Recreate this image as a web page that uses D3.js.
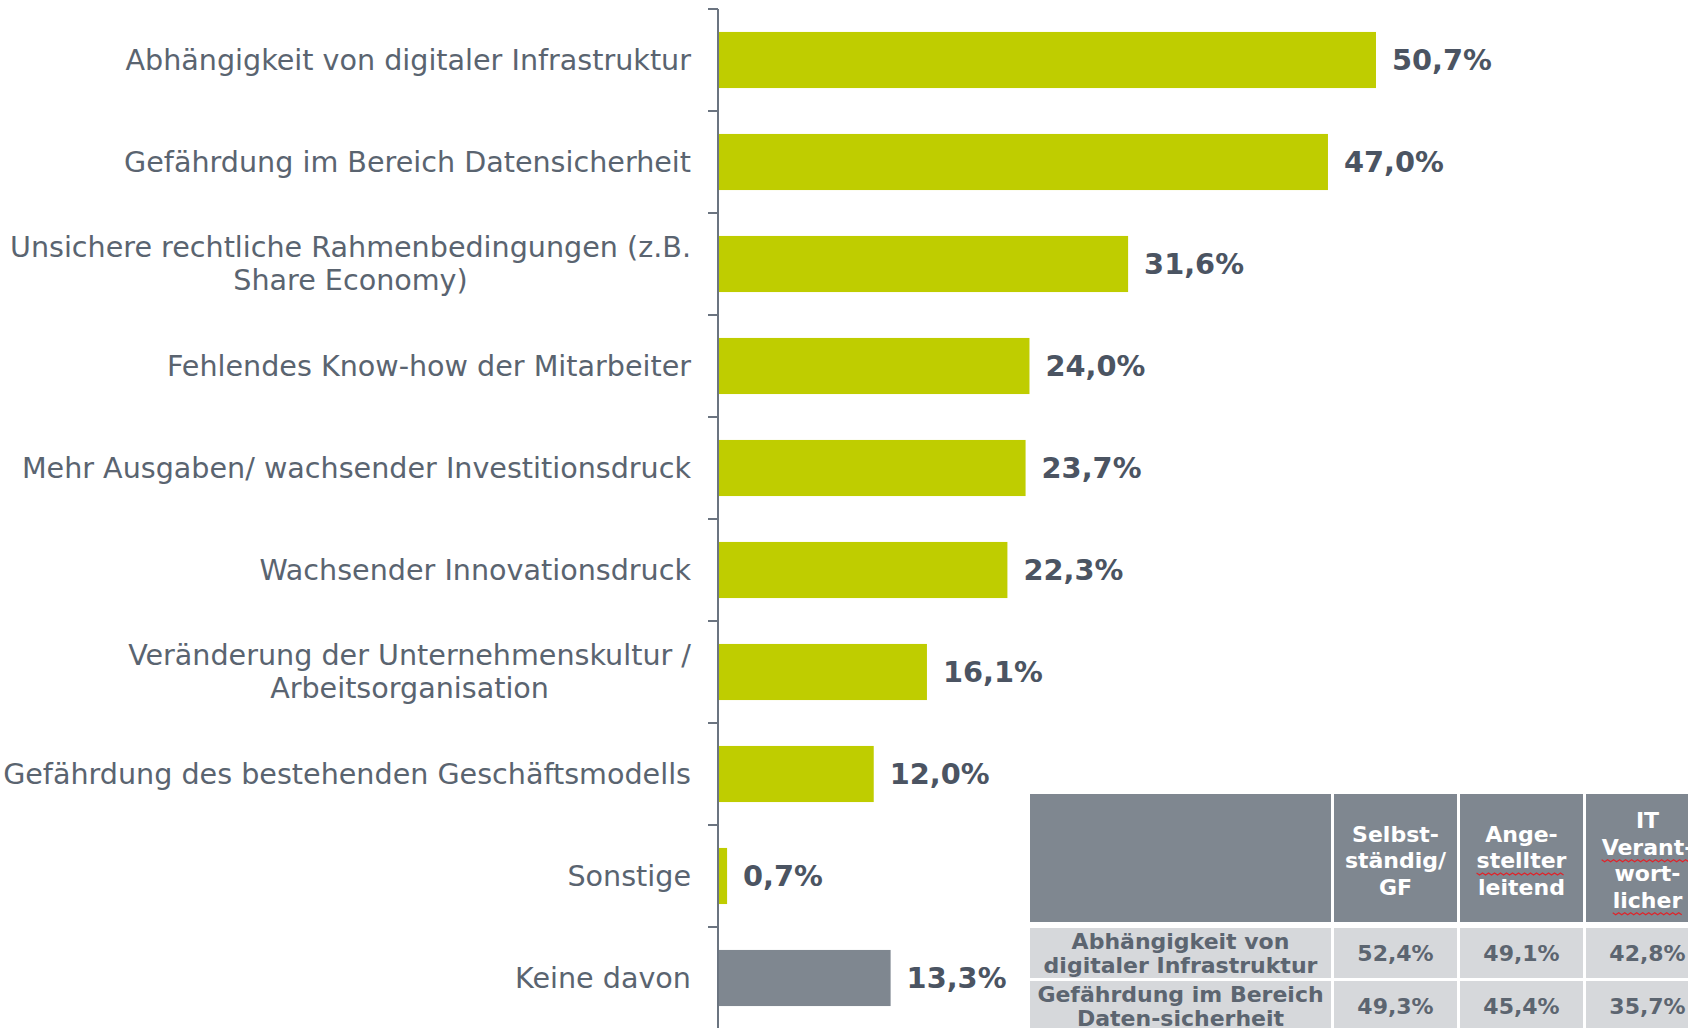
<!DOCTYPE html>
<html><head><meta charset="utf-8">
<script src="https://cdn.jsdelivr.net/npm/d3@7"></script>
<style>
html,body{margin:0;padding:0;background:#fff;overflow:hidden}
svg{display:block}
</style></head>
<body>
<svg id="chart" width="1688" height="1028"></svg>
<script>
// ---- data ----
const categories = [
  "Abhängigkeit von digitaler Infrastruktur",
  "Gefährdung im Bereich Datensicherheit",
  "Unsichere rechtliche Rahmenbedingungen (z.B.\nShare Economy)",
  "Fehlendes Know-how der Mitarbeiter",
  "Mehr Ausgaben/ wachsender Investitionsdruck",
  "Wachsender Innovationsdruck",
  "Veränderung der Unternehmenskultur /\nArbeitsorganisation",
  "Gefährdung des bestehenden Geschäftsmodells",
  "Sonstige",
  "Keine davon"
];
const values = [50.7, 47.0, 31.6, 24.0, 23.7, 22.3, 16.1, 12.0, 0.7, 13.3];
const valueLabels = ["50,7%","47,0%","31,6%","24,0%","23,7%","22,3%","16,1%","12,0%","0,7%","13,3%"];
const neutralCategory = "Keine davon";

const tableColumns = ["", "Selbst-\nständig/\nGF", "Ange-\nstellter\nleitend", "IT\nVerant-\nwort-\nlicher"];
const tableRowLabels = ["Abhängigkeit von\ndigitaler Infrastruktur", "Gefährdung im Bereich\nDaten-sicherheit"];
const tableValues = [
  ["52,4%", "49,1%", "42,8%"],
  ["49,3%", "45,4%", "35,7%"]
];
// words marked by the spell checker in the header (column index, line index)
const spellMarks = [[2,1],[3,1],[3,3]];

// ---- drawing ----
const svg = d3.select("#chart");
const FONT = "'DejaVu Sans', Verdana, sans-serif";
const green = "#bfcd00", grey = "#7f8790", textGrey = "#5a6470", valueGrey = "#4b5462";

const axisX = 718;
const y = d3.scaleBand().domain(categories).range([9, 1029]).paddingInner(0.45).paddingOuter(0.225);
const x = d3.scaleLinear().domain([0, 60]).range([axisX, axisX + 60 * 12.978]);

// bars
svg.append("g").selectAll("rect").data(categories).join("rect")
  .attr("x", x(0) + 1)
  .attr("y", d => y(d))
  .attr("width", (d, i) => x(values[i]) - x(0) - 1)
  .attr("height", y.bandwidth())
  .attr("fill", d => d === neutralCategory ? grey : green);

// axis line + ticks at band boundaries
const ax = svg.append("g");
ax.append("line").attr("x1", axisX).attr("x2", axisX).attr("y1", 9).attr("y2", 1028)
  .attr("stroke", "#6b7480").attr("stroke-width", 2);
ax.selectAll("line.tick").data(categories).join("line").attr("class", "tick")
  .attr("x1", axisX - 10).attr("x2", axisX)
  .attr("y1", d => y(d) - y.step() * y.paddingInner() / 2)
  .attr("y2", d => y(d) - y.step() * y.paddingInner() / 2)
  .attr("stroke", "#6b7480").attr("stroke-width", 2);

// category labels (multi-line blocks right aligned, lines centered)
const labelRight = 691, lineH = 33;
categories.forEach(cat => {
  const lines = cat.split("\n");
  const cy = y(cat) + y.bandwidth() / 2;
  const g = svg.append("g");
  const texts = lines.map((ln, k) => g.append("text")
    .attr("y", cy + (k - (lines.length - 1) / 2) * lineH + 9.5)
    .attr("font-family", FONT).attr("font-size", 28.6).attr("fill", textGrey)
    .text(ln));
  const widths = texts.map(t => t.node().getComputedTextLength());
  const maxW = d3.max(widths);
  const center = labelRight - maxW / 2;
  texts.forEach(t => t.attr("x", center).attr("text-anchor", "middle"));
});

// value labels
svg.append("g").selectAll("text").data(categories).join("text")
  .attr("x", (d, i) => x(values[i]) + 16)
  .attr("y", d => y(d) + y.bandwidth() / 2 + 10)
  .attr("font-family", FONT).attr("font-size", 28.8).attr("font-weight", "bold")
  .attr("fill", valueGrey)
  .text((d, i) => valueLabels[i]);

// ---- table ----
const colEdges = [1030, 1334, 1460, 1586, 1712];
const gap = 3;
const headerTop = 794, headerBottom = 922;
const rowTops = [928, 981], rowH = 50;
const tg = svg.append("g");
const tfs = 22;

tableColumns.forEach((col, c) => {
  const x0 = colEdges[c], x1 = colEdges[c + 1] - gap;
  tg.append("rect").attr("x", x0).attr("y", headerTop).attr("width", x1 - x0).attr("height", headerBottom - headerTop).attr("fill", grey);
  const lines = col ? col.split("\n") : [];
  const cx = (x0 + x1) / 2, cy = (headerTop + headerBottom) / 2 + 2;
  lines.forEach((ln, k) => {
    const ty = cy + (k - (lines.length - 1) / 2) * 26.5;
    const t = tg.append("text").attr("x", cx).attr("y", ty + 8).attr("text-anchor", "middle")
      .attr("font-family", FONT).attr("font-size", tfs).attr("font-weight", "bold").attr("fill", "#ffffff")
      .text(ln);
    if (spellMarks.some(m => m[0] === c && m[1] === k)) {
      const w = t.node().getComputedTextLength();
      const sx = cx - w / 2, sy = ty + 13;
      const pts = d3.range(0, Math.floor(w / 3) + 1).map(i => [sx + i * 3, sy + (i % 2 ? 2 : 0)]);
      tg.append("path").attr("d", d3.line()(pts)).attr("fill", "none").attr("stroke", "#e0242a").attr("stroke-width", 1.2);
    }
  });
});

tableRowLabels.forEach((lab, r) => {
  const ry = rowTops[r];
  colEdges.slice(0, -1).forEach((x0, c) => {
    const x1 = colEdges[c + 1] - gap;
    tg.append("rect").attr("x", x0).attr("y", ry).attr("width", x1 - x0).attr("height", rowH).attr("fill", "#d6d8db");
    const cx = (x0 + x1) / 2, cy = ry + rowH / 2;
    if (c === 0) {
      const lines = lab.split("\n");
      lines.forEach((ln, k) => {
        tg.append("text").attr("x", cx).attr("y", cy + (k - (lines.length - 1) / 2) * 24 + 8)
          .attr("text-anchor", "middle").attr("font-family", FONT).attr("font-size", tfs)
          .attr("font-weight", "bold").attr("fill", "#5c6570").text(ln);
      });
    } else {
      tg.append("text").attr("x", cx).attr("y", cy + 8).attr("text-anchor", "middle")
        .attr("font-family", FONT).attr("font-size", tfs).attr("font-weight", "bold")
        .attr("fill", "#5c6570").text(tableValues[r][c - 1]);
    }
  });
});
</script>
</body></html>
